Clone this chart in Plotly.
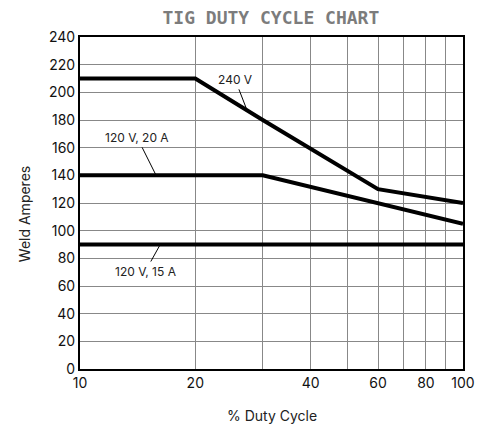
import math
import plotly.graph_objects as go

duty_ticks = [10, 20, 30, 40, 50, 60, 70, 80, 90, 100]
duty_tick_text = ["10", "20", "", "40", "", "60", "", "80", "", "100"]

v240_x = [10, 20, 30, 60, 100]
v240_y = [210, 210, 180, 130, 120]

v120_20_x = [10, 30, 100]
v120_20_y = [140, 140, 105]

v120_15_x = [10, 100]
v120_15_y = [90, 90]

fig = go.Figure()
for xs, ys in [(v240_x, v240_y), (v120_20_x, v120_20_y), (v120_15_x, v120_15_y)]:
    fig.add_trace(go.Scatter(x=xs, y=ys, mode="lines",
                             line=dict(color="black", width=4),
                             showlegend=False, hoverinfo="skip"))

labels = [
    ("240 V", 27.3, 187, -12, -31),
    ("120 V, 20 A", 15.8, 140, -19, -38),
    ("120 V, 15 A", 16.2, 90, -15, 27),
]
for text, x, y, ax, ay in labels:
    fig.add_annotation(x=math.log10(x), y=y, xref="x", yref="y", text=text,
                       showarrow=True, arrowhead=0, arrowwidth=1, arrowcolor="black",
                       ax=ax, ay=ay, standoff=0, borderpad=2,
                       font=dict(family="Inter", size=12, color="#222"))

# axis titles
fig.add_annotation(xref="paper", yref="paper", x=0.5, y=-0.14, text="% Duty Cycle",
                   showarrow=False, xanchor="center", yanchor="middle",
                   font=dict(family="Inter", size=14, color="#222"))
fig.add_annotation(xref="paper", yref="paper", x=-0.143, y=0.467, text="Weld Amperes",
                   showarrow=False, xanchor="center", yanchor="middle", textangle=-90,
                   font=dict(family="Inter", size=14, color="#222"))

fig.update_layout(
    width=496, height=429,
    margin=dict(l=72, r=41, t=29, b=68),
    paper_bgcolor="white", plot_bgcolor="white",
    title=dict(text="<b>TIG DUTY CYCLE CHART</b>", x=0.53, xanchor="center",
               y=0.978, yanchor="middle",
               font=dict(family="DejaVu Sans Mono", size=18, color="#7c7c7c")),
    font=dict(family="Inter", color="#111"),
)
fig.update_xaxes(type="log", range=[1, 2], tickvals=duty_ticks, ticktext=duty_tick_text,
                 showgrid=True, gridcolor="#888", gridwidth=1,
                 showline=True, linecolor="black", linewidth=2, mirror=True,
                 ticks="", tickfont=dict(size=14))
fig.update_yaxes(range=[0, 240], dtick=20,
                 showgrid=True, gridcolor="#888", gridwidth=1,
                 showline=True, linecolor="black", linewidth=2, mirror=True,
                 ticks="", tickfont=dict(size=14), zeroline=False)

fig.write_html("out.html")
